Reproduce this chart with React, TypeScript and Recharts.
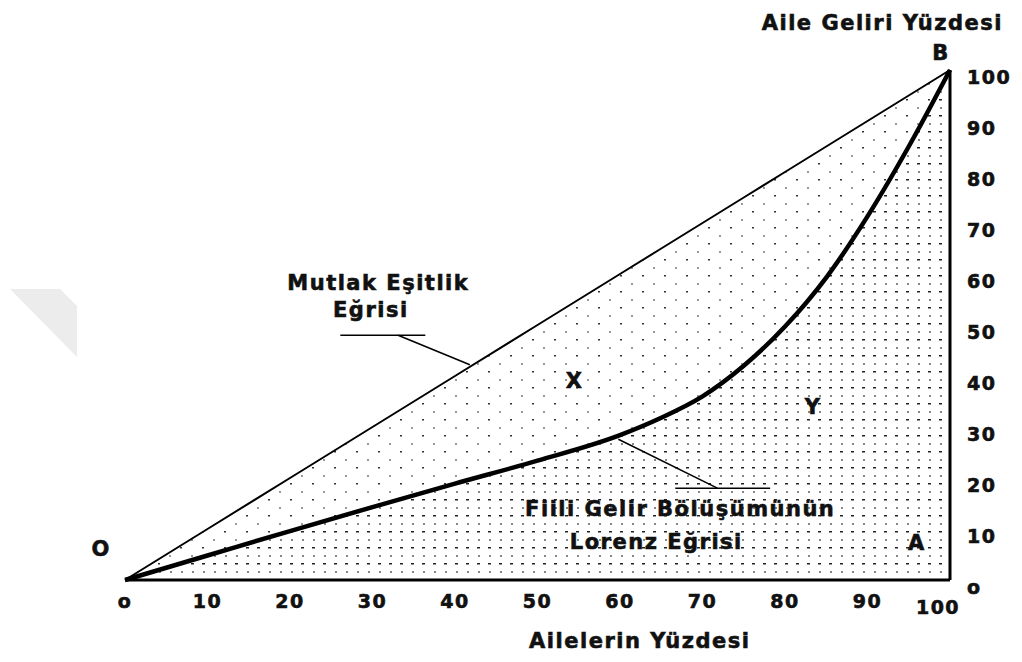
import React from "react";
import {
  ComposedChart,
  Area,
  XAxis,
  YAxis,
  ReferenceDot,
  ReferenceLine,
} from "recharts";

// Ailelerin yüzdesi (x) ve gelir yüzdeleri
const aileler = [0, 10, 20, 30, 40, 50, 60, 65, 70, 75, 80, 85, 90, 95, 100];
const esitlik = [0, 10, 20, 30, 40, 50, 60, 65, 70, 75, 80, 85, 90, 95, 100];
const lorenz = [0, 4.8, 9.6, 14.3, 18.9, 23.4, 28.4, 31.8, 36, 42, 49.7, 59.3, 71.3, 85, 100];

const xTicks = [0, 10, 20, 30, 40, 50, 60, 70, 80, 90, 100];
const yTicks = [0, 10, 20, 30, 40, 50, 60, 70, 80, 90, 100];

// metinler, veri koordinatlarında
const notes = [
  { text: "Aile Geliri Yüzdesi", x: 91.8, y: 109.4, size: 21 },
  { text: "B", x: 98.9, y: 103.5, size: 21 },
  { text: "O", x: -2.9, y: 6.1, size: 21 },
  { text: "A", x: 96.0, y: 7.3, size: 21 },
  { text: "X", x: 54.5, y: 39.2, size: 21 },
  { text: "Y", x: 83.4, y: 34.1, size: 21 },
  { text: "Mutlak Eşitlik", x: 30.7, y: 58.4, size: 21 },
  { text: "Eğrisi", x: 29.8, y: 53.1, size: 21 },
  { text: "Fiili Gelir Bölüşümünün", x: 67.3, y: 14.1, size: 21 },
  { text: "Lorenz Eğrisi", x: 64.4, y: 7.6, size: 21 },
  { text: "Ailelerin Yüzdesi", x: 62.4, y: -11.8, size: 21 },
];

const leaders = [
  [{ x: 26.1, y: 48 }, { x: 36.4, y: 48 }],
  [{ x: 33.1, y: 48 }, { x: 41.8, y: 42.2 }],
  [{ x: 59.8, y: 27.6 }, { x: 71.8, y: 18 }],
  [{ x: 66.7, y: 18 }, { x: 78.2, y: 18 }],
];

const data = aileler.map((x, i) => ({ x, esitlik: esitlik[i], lorenz: lorenz[i] }));

const INK = "#111";
const FONT = "'DejaVu Sans', Verdana, sans-serif";
const textStyle = (size: number) => ({
  fontFamily: FONT,
  fontWeight: "bold" as const,
  fontSize: size,
  letterSpacing: 1.5,
});

const fmt = (v: number) => (v === 0 ? "o" : String(v));

const XTick = (p: any) => {
  const last = p.payload.value === 100;
  return (
    <text
      x={p.x + (last ? -12 : 0)}
      y={p.y + (last ? 6 : 0)}
      dy="0.71em"
      textAnchor="middle"
      fill={INK}
      stroke={INK}
      strokeWidth={0.6}
      style={textStyle(19)}
    >
      {fmt(p.payload.value)}
    </text>
  );
};

const YTick = (p: any) => (
  <text
    x={p.x}
    y={p.y + 7}
    dy="0.36em"
    textAnchor="start"
    fill={INK}
    stroke={INK}
    strokeWidth={0.6}
    style={textStyle(19)}
  >
    {fmt(p.payload.value)}
  </text>
);

const noteShape = (text: string, size: number) => (p: any) => (
  <text
    x={p.cx}
    y={p.cy}
    dy="0.36em"
    textAnchor="middle"
    fill={INK}
    stroke={INK}
    strokeWidth={0.6}
    style={textStyle(size)}
  >
    {text}
  </text>
);

export default function App() {
  return (
    <div style={{ position: "absolute", left: 0, top: 0, width: 1022, height: 662, background: "#fff" }}>
      <svg width={0} height={0} style={{ position: "absolute" }}>
        <defs>
          <pattern id="seyrek" width={22} height={16} patternUnits="userSpaceOnUse">
            <rect width={22} height={16} fill="#fff" />
            <rect x={4} y={3} width={2} height={1.5} fill="#333" />
            <rect x={15} y={11} width={2} height={2} fill="#999" />
          </pattern>
          <pattern id="sik" width={11} height={16} patternUnits="userSpaceOnUse">
            <rect width={11} height={16} fill="#fff" />
            <rect x={4} y={3} width={3} height={1.5} fill="#222" />
            <rect x={5} y={11} width={2} height={2} fill="#888" />
          </pattern>
        </defs>
      </svg>
      <svg width={90} height={370} style={{ position: "absolute", left: 0, top: 0 }}>
        <polygon points="10,289 60,289 77,306 77,357" fill="#ececec" />
      </svg>
      <ComposedChart
        width={1022}
        height={662}
        data={data}
        margin={{ top: 70, right: 12, bottom: 52, left: 125 }}
      >
        <XAxis
          type="number"
          dataKey="x"
          domain={[0, 100]}
          ticks={xTicks}
          interval={0}
          height={30}
          tickSize={0}
          tickMargin={15}
          tickLine={false}
          axisLine={{ stroke: "#000", strokeWidth: 3 }}
          tick={XTick}
        />
        <YAxis
          orientation="right"
          type="number"
          domain={[0, 100]}
          ticks={yTicks}
          interval={0}
          width={60}
          tickSize={0}
          tickMargin={17}
          tickLine={false}
          axisLine={{ stroke: "#000", strokeWidth: 3 }}
          tick={YTick}
        />
        <Area
          type="linear"
          dataKey="esitlik"
          stroke="#000"
          strokeWidth={2}
          fill="url(#seyrek)"
          fillOpacity={1}
          dot={false}
          activeDot={false}
          isAnimationActive={false}
        />
        <Area
          type="monotone"
          dataKey="lorenz"
          stroke="#000"
          strokeWidth={4.5}
          fill="url(#sik)"
          fillOpacity={1}
          dot={false}
          activeDot={false}
          isAnimationActive={false}
        />
        {leaders.map((seg, i) => (
          <ReferenceLine key={i} segment={seg} stroke="#000" strokeWidth={1.5} ifOverflow="visible" />
        ))}
        {notes.map((n, i) => (
          <ReferenceDot
            key={i}
            x={n.x}
            y={n.y}
            r={0}
            ifOverflow="visible"
            shape={noteShape(n.text, n.size)}
          />
        ))}
      </ComposedChart>
    </div>
  );
}
